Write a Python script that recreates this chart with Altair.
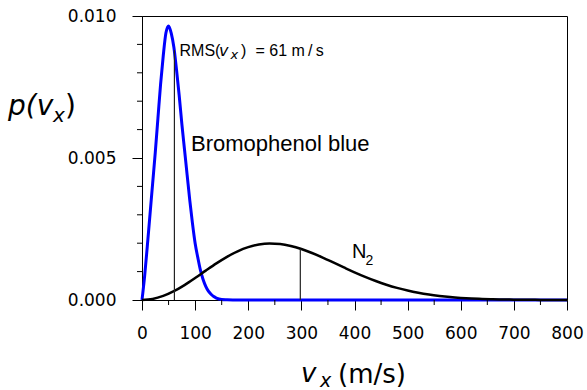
import altair as alt
import pandas as pd

# Bromophenol blue curve
blue_v = [0, 5, 10, 15, 20, 25, 30, 35, 40, 45, 50, 55, 60, 65, 70, 75, 80, 85, 90, 95,
          100, 105, 110, 115, 120, 125, 130, 135, 140, 150, 160, 180, 300, 500, 800]
blue_p = [0.0, 0.00085, 0.0019, 0.0030, 0.0041, 0.0052, 0.0064, 0.0076, 0.0086, 0.0094,
          0.00965, 0.0094, 0.0089, 0.0081, 0.0072, 0.0062, 0.0053, 0.0044, 0.0035, 0.0027,
          0.0020, 0.0015, 0.00105, 0.00072, 0.00048, 0.00031, 0.0002, 0.00012, 0.00007,
          0.00002, 0.00001, 0.0, 0.0, 0.0, 0.0]

# N2 curve
n2_v = [0, 20, 40, 60, 80, 100, 120, 140, 160, 180, 200, 220, 240, 260, 280, 300, 320, 340,
        360, 380, 400, 420, 440, 460, 480, 500, 520, 540, 560, 580, 600, 620, 640, 660, 680,
        700, 720, 740, 760, 780, 800]
n2_p = [0.0, 0.000036, 0.000143, 0.00031, 0.000526, 0.000773, 0.001034, 0.001288, 0.00152,
        0.001715, 0.001861, 0.001953, 0.001989, 0.001971, 0.001904, 0.001796, 0.001656,
        0.001495, 0.001323, 0.001147, 0.000975, 0.000815, 0.000668, 0.000538, 0.000426,
        0.000332, 0.000254, 0.000191, 0.000142, 0.000103, 0.000074, 0.000052, 0.000037,
        0.000025, 0.000017, 0.000011, 0.000007, 0.000005, 0.000003, 0.000002, 0.000001]

# RMS markers
rms_v = [61, 298]
rms_top = [0.0088, 0.0018]

# ticks
x_major = [0, 100, 200, 300, 400, 500, 600, 700, 800]
x_minor = [50, 150, 250, 350, 450, 550, 650, 750]
y_major = [0.0, 0.005, 0.010]
y_minor = [0.001, 0.002, 0.003, 0.004, 0.006, 0.007, 0.008, 0.009]

# annotations (data coordinates)
ann_text = ["RMS(", ")", "= 61 m\u2009/\u2009s", "Bromophenol blue", "N", "2"]
ann_v = [70.6, 186.4, 213.6, 92.2, 395.3, 420.7]
ann_p = [0.00858, 0.00858, 0.00858, 0.00524, 0.001486, 0.00125]
ann_size = [16, 16, 16, 22, 20, 14]
ital_text = ["v", "x"]
ital_v = [145.0, 166.5]
ital_p = [0.00858, 0.00847]
ital_size = [16, 13]

x_scale = alt.Scale(domain=[0, 800], nice=False, zero=False)
y_scale = alt.Scale(domain=[0, 0.010], nice=False)

x_axis = alt.Axis(values=x_major, format="d", tickSize=10, tickWidth=1, tickColor="black",
                  domainColor="black", domainWidth=1, labelFont="DejaVu Sans", labelFontSize=17,
                  labelPadding=15, labelColor="black", title=None, grid=False, labelFlush=False)
y_axis = alt.Axis(values=y_major, format=".3f", tickSize=10, tickWidth=1, tickColor="black",
                  domainColor="black", domainWidth=1, labelFont="DejaVu Sans", labelFontSize=17,
                  labelPadding=16, labelColor="black", title=None, grid=False, labelFlush=False)

blue_df = pd.DataFrame({"v": blue_v, "p": blue_p})
n2_df = pd.DataFrame({"v": n2_v, "p": n2_p})
rms_df = pd.DataFrame({"v": rms_v, "p": [0.0, 0.0], "p1": rms_top})

X = alt.X("v:Q", scale=x_scale, axis=x_axis)
Y = alt.Y("p:Q", scale=y_scale, axis=y_axis)

blue = alt.Chart(blue_df).mark_line(color="#0000ff", strokeWidth=3, interpolate="monotone").encode(
    x=X, y=Y,
)
n2 = alt.Chart(n2_df).mark_line(color="black", strokeWidth=2.5, interpolate="monotone").encode(
    x=X, y=Y,
)
rms = alt.Chart(rms_df).mark_rule(color="#222222", strokeWidth=1.2).encode(
    x=X, y=Y, y2="p1:Q",
)
xminor = alt.Chart(pd.DataFrame({"v": x_minor})).mark_rule(color="black", strokeWidth=1).encode(
    x=X,
    y=alt.value(284),
    y2=alt.value(289),
)
yminor = alt.Chart(pd.DataFrame({"p": y_minor})).mark_rule(color="black", strokeWidth=1).encode(
    y=Y,
    x=alt.value(0),
    x2=alt.value(-5),
)

ann = alt.Chart(pd.DataFrame({"t": ann_text, "v": ann_v, "p": ann_p, "s": ann_size})).mark_text(
    font="Liberation Sans", align="left", baseline="alphabetic", color="black"
).encode(
    x=X, y=Y,
    text="t:N",
    size=alt.Size("s:Q", scale=None, legend=None),
)
ann_it = alt.Chart(pd.DataFrame({"t": ital_text, "v": ital_v, "p": ital_p, "s": ital_size})).mark_text(
    font="DejaVu Sans", fontStyle="italic", align="left", baseline="alphabetic", color="black"
).encode(
    x=X, y=Y,
    text="t:N",
    size=alt.Size("s:Q", scale=None, legend=None),
)


def label(txt, x, y, size, style="normal"):
    return alt.Chart(pd.DataFrame({"t": [txt]})).mark_text(
        font="DejaVu Sans", fontSize=size, fontStyle=style, align="left",
        baseline="alphabetic", color="black"
    ).encode(x=alt.value(x), y=alt.value(y), text="t:N")


ytitle = [
    label("p(v", -134, 99, 28, "italic"),
    label("x", -89, 106, 20, "italic"),
    label(")", -77, 99, 28),
]
xtitle = [
    label("v", 159, 366, 26, "italic"),
    label("x", 178, 370.5, 19, "italic"),
    label("(m/s)", 196, 366.5, 26),
]

chart = alt.layer(
    blue, n2, rms, xminor, yminor, ann, ann_it, *ytitle, *xtitle
).properties(
    width=425, height=284,
    padding={"left": 142, "top": 16, "right": 20, "bottom": 90},
    autosize=alt.AutoSizeParams(type="none"),
).configure_view(stroke="black", strokeWidth=1)

chart.save("out.html", embed_options={"renderer": "svg", "actions": False})
